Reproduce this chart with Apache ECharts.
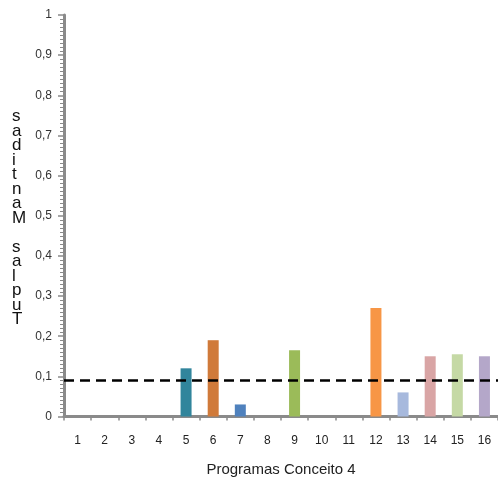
<!DOCTYPE html>
<html>
<head>
<meta charset="utf-8">
<script src="https://cdn.jsdelivr.net/npm/echarts@6/dist/echarts.min.js"></script>
<style>
  html, body { margin: 0; padding: 0; background: #ffffff; }
  #chart { width: 498px; height: 486px; }
</style>
</head>
<body>
<div id="chart"></div>
<script>
// Programme categories along the x axis
const programas = ['1', '2', '3', '4', '5', '6', '7', '8', '9', '10', '11', '12', '13', '14', '15', '16'];
// Share of tuples kept per programme (empty programmes are 0)
const tuplasMantidas = [0, 0, 0, 0, 0.12, 0.19, 0.03, 0, 0.165, 0, 0, 0.27, 0.06, 0.15, 0.155, 0.15];
// One colour per programme bar
const coresBarras = ['#31859c', '#31859c', '#31859c', '#31859c', '#31859c', '#d07a3a', '#4f81bd', '#4f81bd',
  '#9bbb59', '#9bbb59', '#9bbb59', '#f79646', '#a7b9dd', '#d9a5a5', '#c5d9a5', '#b4a7c9'];
// Reference threshold drawn as a dashed line
const limiar = 0.09;
const tituloY = 'Tuplas Mantidas';
const tituloX = 'Programas Conceito 4';

const chart = echarts.init(document.getElementById('chart'), null, { renderer: 'canvas' });

const font = 'Liberation Sans, Arial, sans-serif';
const axisGray = '#8a8a8a';

chart.setOption({
  animation: false,
  backgroundColor: '#ffffff',
  grid: { left: 64, right: 0, top: 15, bottom: 69.5, containLabel: false },
  xAxis: {
    type: 'category',
    data: programas,
    name: tituloX,
    nameLocation: 'middle',
    nameGap: 46,
    nameTextStyle: { fontFamily: font, fontSize: 15, color: '#222' },
    axisLine: { lineStyle: { color: axisGray, width: 3 } },
    axisTick: { show: true, alignWithLabel: false, length: 4, lineStyle: { color: axisGray, width: 1.5 } },
    axisLabel: { fontFamily: font, fontSize: 12, color: '#222', margin: 18 }
  },
  yAxis: {
    type: 'value',
    min: 0,
    max: 1,
    interval: 0.1,
    axisLine: { show: true, lineStyle: { color: axisGray, width: 3 } },
    axisTick: { show: true, length: 6, lineStyle: { color: axisGray, width: 1.5 } },
    minorTick: { show: true, splitNumber: 10, length: 4, lineStyle: { color: axisGray, width: 1 } },
    splitLine: { show: false },
    axisLabel: {
      fontFamily: font, fontSize: 12, color: '#333', margin: 12,
      formatter: v => String(Math.round(v * 10) / 10).replace('.', ',')
    }
  },
  series: [{
    type: 'bar',
    data: tuplasMantidas.map((v, i) => ({ value: v, itemStyle: { color: coresBarras[i] } })),
    barWidth: 11,
    markLine: {
      silent: true,
      symbol: 'none',
      label: { show: false },
      lineStyle: { color: '#000', type: [10, 6], width: 2.5 },
      data: [{ yAxis: limiar }]
    }
  }],
  graphic: [{
    type: 'text',
    left: 12,
    top: 108,
    style: {
      text: tituloY.split('').reverse().join('\n'),
      font: '17px ' + font,
      lineHeight: 14.5,
      fill: '#111',
      align: 'center'
    }
  }]
});
</script>
</body>
</html>
